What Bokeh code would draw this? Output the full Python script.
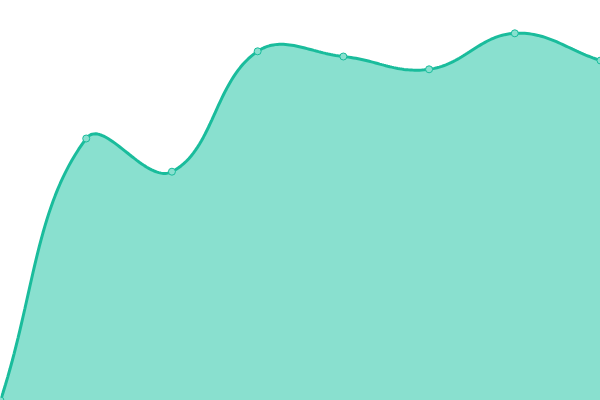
from bokeh.plotting import figure
from bokeh.models import ColumnDataSource
from bokeh.embed import file_html
from bokeh.resources import INLINE
import numpy as np

# data (y axis 0..100, no labels shown)
positions = [0, 1, 2, 3, 4, 5, 6, 7]
values = [0, 65.5, 57.2, 87.3, 86.0, 82.8, 91.8, 85.0]

W, H = 600, 400
X_MAX, Y_MAX = 7, 100
TENSION = 0.4
LINE = "#1abc9c"
FILL = "#89e0cf"


def spline_path(xs, ys, steps=40):
    """Chart.js-like cardinal spline, control points worked out in pixel space."""
    sx, sy = W / X_MAX, H / Y_MAX
    px = np.array(xs, float) * sx
    py = np.array(ys, float) * sy
    n = len(px)
    cps = []
    for i in range(n):
        pi = max(i - 1, 0)
        ni = min(i + 1, n - 1)
        d01 = np.hypot(px[i] - px[pi], py[i] - py[pi])
        d12 = np.hypot(px[ni] - px[i], py[ni] - py[i])
        tot = d01 + d12
        s01 = d01 / tot if tot else 0
        s12 = d12 / tot if tot else 0
        fa, fb = TENSION * s01, TENSION * s12
        dx, dy = px[ni] - px[pi], py[ni] - py[pi]
        cps.append(((px[i] - fa * dx, py[i] - fa * dy), (px[i] + fb * dx, py[i] + fb * dy)))
    out_x, out_y = [], []
    t = np.linspace(0, 1, steps)
    for i in range(n - 1):
        p0 = (px[i], py[i])
        c1 = cps[i][1]
        c2 = cps[i + 1][0]
        p3 = (px[i + 1], py[i + 1])
        bx = (1 - t) ** 3 * p0[0] + 3 * (1 - t) ** 2 * t * c1[0] + 3 * (1 - t) * t ** 2 * c2[0] + t ** 3 * p3[0]
        by = (1 - t) ** 3 * p0[1] + 3 * (1 - t) ** 2 * t * c1[1] + 3 * (1 - t) * t ** 2 * c2[1] + t ** 3 * p3[1]
        out_x.extend(bx / sx)
        out_y.extend(by / sy)
    return out_x, out_y


cx, cy = spline_path(positions, values)

p = figure(width=W, height=H, x_range=(0, X_MAX), y_range=(0, Y_MAX),
           output_backend="svg", toolbar_location=None, tools="",
           min_border=0)
p.axis.visible = False
p.grid.visible = False
p.outline_line_color = None
p.background_fill_color = "white"
p.border_fill_color = "white"
p.styles = {"position": "absolute", "left": "0px", "top": "0px"}

p.patch(cx + [X_MAX, 0], cy + [0, 0], fill_color=FILL, line_color=None)
p.line(cx, cy, line_color=LINE, line_width=3)

src = ColumnDataSource(data=dict(x=positions, y=values))
p.scatter("x", "y", source=src, size=7, fill_color=FILL, line_color=LINE, line_width=1)

open("out.html", "w").write(file_html(p, INLINE))
